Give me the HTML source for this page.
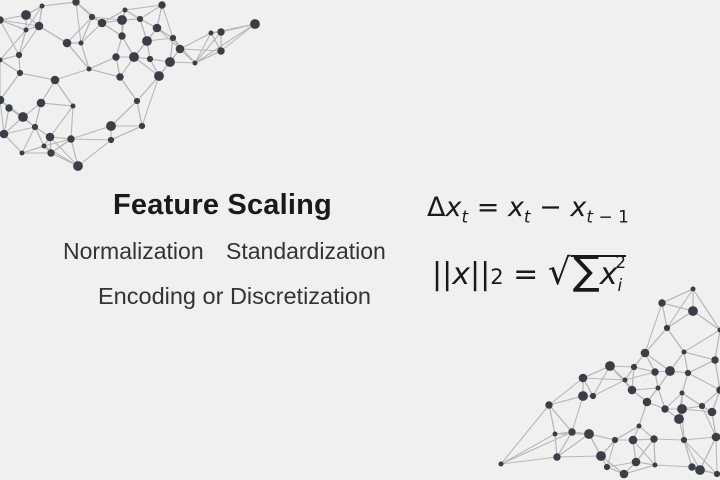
<!DOCTYPE html>
<html><head><meta charset="utf-8"><style>
body{margin:0;width:720px;height:480px;background:#f1f0f1;position:relative;overflow:hidden;font-family:"Liberation Sans",sans-serif;color:#1a1a1a}
svg{position:absolute;left:0;top:0}
.t{position:absolute;white-space:nowrap}
.m{font-family:"DejaVu Sans","Liberation Sans",sans-serif;font-size:27px}
i{font-style:italic}
sub,sup{font-size:17px}
</style></head><body>
<svg id="g" width="720" height="480"></svg>
<div class="t" style="left:113px;top:189px;font-size:29px;font-weight:bold;letter-spacing:0.2px">Feature Scaling</div>
<div class="t" style="left:63px;top:238px;font-size:23px;color:#333">Normalization</div>
<div class="t" style="left:226px;top:238px;font-size:23px;color:#333">Standardization</div>
<div class="t" style="left:98px;top:283px;font-size:23.5px;color:#333">Encoding or Discretization</div>
<div class="t m" style="left:427px;top:192px">Δ<i>x</i><sub><i>t</i></sub> = <i>x</i><sub><i>t</i></sub> − <i>x</i><sub><i>t</i> − 1</sub></div>
<div class="t m" style="left:432px;top:248px;font-size:30px">||<i>x</i>||<span style="font-size:21px">2</span> = <span style="font-size:36px">√</span><span style="border-top:2px solid #1a1a1a;padding-left:2px"><span style="font-size:40px">∑</span><i>x</i><sub><i>i</i></sub><sup style="margin-left:-7px;vertical-align:16px">2</sup></span></div>
<script>
var A=[[42,6],[76,2],[26,15],[92,17],[102,23],[125,10],[162,5],[122,20],[140,19],[39,26],[26,30],[122,36],[147,41],[173,38],[157,28],[211,33],[221,32],[255,24],[19,55],[67,43],[81,43],[116,57],[134,57],[150,59],[180,49],[195,63],[221,51],[170,62],[20,73],[55,80],[89,69],[120,77],[159,76],[137,101],[41,103],[73,106],[9,108],[23,117],[35,127],[50,137],[44,146],[71,139],[111,126],[142,126],[4,134],[22,153],[51,153],[78,166],[111,140],[0,100],[0,60],[0,20]];
var B=[[213,19],[182,33],[213,41],[187,58],[165,83],[204,82],[235,90],[130,96],[154,97],[103,108],[145,110],[175,102],[190,101],[208,103],[152,120],[178,118],[69,135],[103,126],[113,126],[167,132],[202,123],[185,139],[202,139],[222,136],[232,142],[75,164],[92,162],[109,164],[135,170],[153,170],[159,156],[174,169],[199,149],[204,170],[236,167],[21,194],[77,187],[121,186],[127,197],[156,192],[175,195],[212,197],[220,200],[237,204],[144,204],[240,60],[240,120]].map(p=>[p[0]+480,p[1]+270]);
var s='';
function draw(P){P.forEach(function(p,i){var d=P.map((q,j)=>[Math.hypot(q[0]-p[0],q[1]-p[1]),j]).sort((a,b)=>a[0]-b[0]);for(var k=1;k<=4;k++){var q=P[d[k][1]];s+='<line x1="'+p[0]+'" y1="'+p[1]+'" x2="'+q[0]+'" y2="'+q[1]+'" stroke="#b8b8b8" stroke-width="1.1"/>';}});
P.forEach(function(p,i){s+='<circle cx="'+p[0]+'" cy="'+p[1]+'" r="'+(2.5+(i*7%5)*0.6)+'" fill="#3a3f47"/>';});}
draw(A);draw(B);
document.getElementById('g').innerHTML=s;
</script>
</body></html>
